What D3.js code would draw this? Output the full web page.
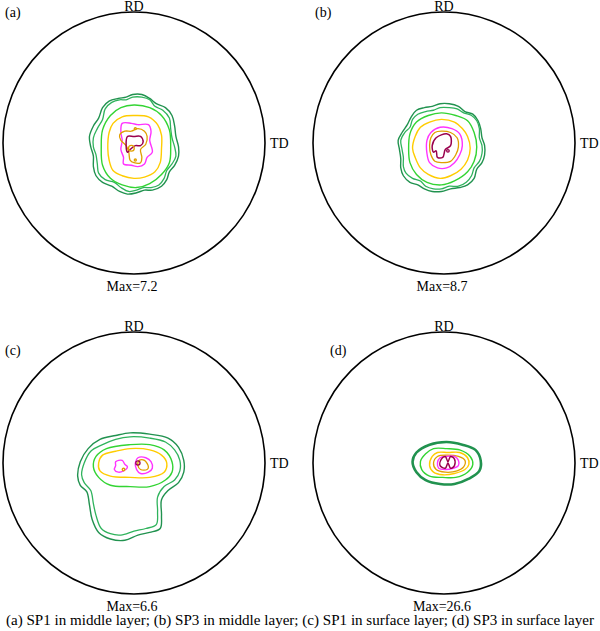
<!DOCTYPE html>
<html>
<head>
<meta charset="utf-8">
<script src="https://cdn.jsdelivr.net/npm/d3@7"></script>
<style>
  html, body { margin: 0; padding: 0; background: #fff; }
  svg { display: block; }
</style>
</head>
<body>
<svg id="chart" width="600" height="631"></svg>
<script>
// ---------------- DATA ----------------
// Pole figure coordinates: circle radius = 100, x toward TD, y toward RD.
const panelIds = ["a", "b", "c", "d"];
const panelLabels = ["(a)", "(b)", "(c)", "(d)"];
const maxValues = [7.2, 8.7, 6.6, 26.6];
const captionText = "(a) SP1 in middle layer; (b) SP3 in middle layer; (c) SP1 in surface layer; (d) SP3 in surface layer";
const levelKeys = ["L1", "L2", "L3", "L4", "L5", "L6", "L7"];

// Panel (a)
const a_L1 = [[-1,37],[6,37],[12,34],[17,30],[24,27],[29,21],[31,13],[32,5],[34,-3],[34,-10],[31,-17],[27,-22],[25,-28],[21,-33],[14,-36],[8,-36],[2,-38],[-5,-39],[-11,-37],[-17,-33],[-24,-30],[-29,-25],[-31,-18],[-31,-10],[-33,-3],[-34,5],[-31,13],[-27,19],[-24,27],[-19,32],[-12,34],[-6,35]];
const a_L2 = [[-1,35],[6,35],[12,33],[16,28],[22,25],[27,19],[28,11],[29,4],[31,-3],[32,-10],[29,-16],[25,-21],[23,-27],[19,-32],[13,-34],[7,-34],[2,-36],[-4,-37],[-10,-34],[-15,-30],[-22,-28],[-27,-23],[-28,-16],[-29,-9],[-31,-3],[-31,4],[-28,11],[-24,18],[-22,26],[-17,31],[-11,33],[-6,33]];
const a_L3 = [[0,29],[12,27],[21,21],[27,10],[28,-3],[27,-15],[21,-24],[12,-31],[2,-34],[-9,-32],[-18,-27],[-24,-17],[-25,-3],[-24,10],[-18,21],[-10,27]];
const a_L4 = [[0,21],[11,20],[18,14],[21,6],[21,-4],[20,-15],[16,-22],[8,-26],[0,-27],[-9,-25],[-16,-21],[-19,-13],[-20,-4],[-19,8],[-16,15],[-9,20]];
const a_L6 = [[-9,15],[-2,15],[3,14],[11,14],[13,9],[12,2],[14,-7],[10,-11],[8,-16],[3,-18],[-2,-17],[-8,-16],[-8,-11],[-10,-5],[-9,2],[-10,8]];
const a_L5 = [[-7,9],[-2,9],[3,11],[8,9],[10,5],[9,-1],[5,-5],[6,-11],[5,-15],[0,-15],[-3,-13],[-4,-7],[-6,-2],[-10,2],[-11,6]];
const a_L7 = [[-5,5],[0,5],[5,5],[7,1],[5,-2],[1,-2],[-3,-5],[-5,-7],[-6,-2]];
const a_L5_spots = [[1,11,0.8],[1,-13,0.8],[-2,-4,2.2]];

// Panel (b)
const b_L1 = [[-3,30],[4,30],[11,28],[16,24],[22,22],[26,17],[28,11],[29,4],[31,-2],[31,-9],[29,-15],[25,-20],[23,-27],[18,-32],[12,-34],[5,-35],[-2,-37],[-9,-37],[-15,-35],[-20,-32],[-26,-30],[-31,-25],[-33,-19],[-33,-12],[-34,-5],[-35,2],[-32,8],[-28,14],[-25,20],[-21,25],[-15,27],[-9,28]];
const b_L2 = [[-3,27],[4,27],[10,26],[15,23],[21,21],[25,17],[27,11],[27,4],[29,-2],[29,-8],[27,-14],[23,-19],[21,-25],[17,-30],[11,-33],[4,-33],[-2,-35],[-8,-35],[-14,-33],[-18,-29],[-24,-27],[-29,-23],[-31,-18],[-31,-11],[-32,-5],[-33,2],[-30,8],[-26,12],[-24,18],[-20,22],[-14,24],[-8,25]];
const b_L3 = [[-2,23],[9,21],[18,17],[23,8],[25,-3],[23,-14],[18,-22],[8,-29],[-2,-32],[-13,-30],[-21,-24],[-26,-15],[-27,-5],[-26,7],[-21,16],[-12,21]];
const b_L4 = [[-2,18],[8,16],[14,11],[18,5],[20,-4],[18,-13],[13,-20],[5,-25],[-3,-27],[-12,-24],[-18,-19],[-22,-11],[-24,-4],[-22,5],[-18,12],[-11,16]];
const b_L6 = [[-3,12],[6,11],[12,7],[14,-2],[12,-9],[8,-15],[2,-19],[-5,-19],[-11,-15],[-13,-8],[-13,2],[-10,8]];
const b_L5 = [[-2,9],[5,8],[10,4],[11,-3],[9,-9],[5,-14],[-2,-15],[-7,-14],[-10,-9],[-11,-2],[-10,4],[-7,8]];
const b_L7 = [[-9,-2],[-6,4],[2,7],[5,5],[5,-2],[1,-5],[-1,-11],[-5,-11],[-6,-6],[-8,-7]];
const b_L7_spots = [[3,-6,1.0]];

// Panel (c)
const c_L1 = [[-3,23],[12,22],[26,19],[34,12],[38,2],[38,-7],[34,-15],[26,-21],[21,-28],[21,-40],[20,-50],[12,-53],[3,-55],[-7,-59],[-18,-58],[-27,-53],[-32,-43],[-34,-32],[-36,-22],[-41,-17],[-43,-10],[-41,1],[-35,11],[-26,18],[-14,21]];
const c_L2 = [[-3,20],[12,19],[24,16],[31,10],[35,2],[35,-6],[31,-13],[23,-18],[18,-26],[18,-37],[17,-47],[9,-50],[0,-52],[-10,-55],[-18,-54],[-25,-50],[-29,-40],[-31,-31],[-33,-21],[-38,-15],[-40,-9],[-38,0],[-33,9],[-24,14],[-14,18]];
const c_L3 = [[-3,14],[12,14],[23,10],[29,1],[29,-7],[24,-13],[12,-18],[-3,-18],[-18,-17],[-27,-11],[-31,-3],[-29,5],[-21,11]];
const c_L4 = [[-3,11],[12,10],[21,6],[25,0],[23,-7],[12,-11],[-3,-11],[-18,-10],[-26,-6],[-27,0],[-24,6],[-14,9]];
const c_L6a = [[-14,1],[-9,2],[-7,-1],[-5,-3],[-8,-6],[-12,-7],[-15,-5],[-14,-2]];
const c_L6b = [[3,4],[9,4],[13,1],[14,-4],[11,-7],[5,-8],[2,-5],[1,0]];
const c_L5 = [[4,2],[8,2],[11,-3],[10,-5],[5,-5],[3,-2]];
const c_L5_spots = [[-8,-5,1.0]];
const c_L7_spots = [[3,0,1.6]];

// Panel (d)
const d_L1 = [[2,16],[14,14],[24,10],[28,2],[27,-6],[19,-12],[8,-16],[-3,-16],[-14,-13],[-21,-7],[-24,1],[-21,8],[-11,14]];
const d_L3 = [[2,11],[12,10],[20,5],[22,-1],[18,-7],[9,-11],[-1,-11],[-11,-10],[-17,-5],[-18,1],[-14,7],[-8,11]];
const d_L4 = [[3,8],[12,8],[18,4],[19,-1],[16,-5],[8,-8],[-1,-9],[-8,-7],[-11,-2],[-9,5],[-5,8]];
const d_L5 = [[3,6],[11,5],[16,2],[15,-3],[10,-6],[1,-7],[-6,-5],[-8,0],[-5,5]];
const d_L6 = [[2,5],[8,5],[11,2],[11,-2],[7,-4],[1,-5],[-4,-4],[-5,0],[-3,4]];
const d_L7 = [[-3,-2],[-2,3],[1,5],[3,1],[5,5],[8,3],[8,-2],[5,-4],[3,0],[1,-4]];

// contour sets per panel: [level, points]
const contourSets = {
  a: [["L1", a_L1], ["L2", a_L2], ["L3", a_L3], ["L4", a_L4], ["L6", a_L6], ["L5", a_L5], ["L7", a_L7]],
  b: [["L1", b_L1], ["L2", b_L2], ["L3", b_L3], ["L4", b_L4], ["L6", b_L6], ["L5", b_L5], ["L7", b_L7]],
  c: [["L1", c_L1], ["L2", c_L2], ["L3", c_L3], ["L4", c_L4], ["L6", c_L6a], ["L6", c_L6b], ["L5", c_L5]],
  d: [["L1", d_L1], ["L3", d_L3], ["L4", d_L4], ["L5", d_L5], ["L6", d_L6], ["L7", d_L7]]
};
const spotSets = {
  a: [["L5", a_L5_spots]],
  b: [["L7", b_L7_spots]],
  c: [["L5", c_L5_spots], ["L7", c_L7_spots]],
  d: []
};

// ---------------- STYLE / LAYOUT ----------------
const FONT = "'Liberation Serif', 'Times New Roman', Times, serif";
const levelColor = d3.scaleOrdinal()
  .domain(levelKeys)
  .range(["#21924f", "#2fb35c", "#33d433", "#ffcc00", "#e0a000", "#ff33ff", "#99004d"]);
const levelWidth = { L1: 1.4, L2: 1.3, L3: 1.4, L4: 1.4, L5: 1.3, L6: 1.4, L7: 1.5 };
const panelLayout = {
  a: { cx: 134, cy: 143, labelX: 5, labelY: 17 },
  b: { cx: 444, cy: 143, labelX: 315, labelY: 17 },
  c: { cx: 134, cy: 463, labelX: 5, labelY: 355 },
  d: { cx: 444, cy: 463, labelX: 330, labelY: 355 }
};
const R = 131;

const svg = d3.select("#chart");
svg.append("rect").attr("width", 600).attr("height", 631).attr("fill", "#fff");

function addText(g, x, y, str, anchor, size) {
  return g.append("text")
    .attr("x", x).attr("y", y)
    .attr("text-anchor", anchor)
    .attr("font-family", FONT)
    .attr("font-size", size)
    .attr("fill", "#000")
    .text(str);
}

panelIds.forEach((id, i) => {
  const L = panelLayout[id];
  const x = d3.scaleLinear().domain([-100, 100]).range([L.cx - R, L.cx + R]);
  const y = d3.scaleLinear().domain([-100, 100]).range([L.cy + R, L.cy - R]);
  const g = svg.append("g").attr("class", "panel-" + id);

  // outer circle
  g.append("circle")
    .attr("cx", x(0)).attr("cy", y(0))
    .attr("r", x(100) - x(0))
    .attr("fill", "none").attr("stroke", "#000").attr("stroke-width", 1.6);

  const line = d3.line()
    .x(d => x(d[0])).y(d => y(d[1]))
    .curve(d3.curveCatmullRomClosed.alpha(0.5));

  g.selectAll("path.contour")
    .data(contourSets[id])
    .enter().append("path")
    .attr("class", "contour")
    .attr("d", d => line(d[1]))
    .attr("fill", "none")
    .attr("stroke", d => levelColor(d[0]))
    .attr("stroke-width", d => (id === "d" && d[0] === "L1") ? 2.6 : levelWidth[d[0]])
    .attr("stroke-linejoin", "round");

  spotSets[id].forEach(([lvl, pts]) => {
    g.selectAll(null).data(pts).enter().append("circle")
      .attr("cx", d => x(d[0])).attr("cy", d => y(d[1]))
      .attr("r", d => x(d[2]) - x(0))
      .attr("fill", "none")
      .attr("stroke", levelColor(lvl))
      .attr("stroke-width", 1.3);
  });

  // labels
  addText(g, x(0), y(100) - 1, "RD", "middle", 14);
  addText(g, x(100) + 5, y(0) + 5, "TD", "start", 14);
  addText(g, L.labelX, L.labelY, panelLabels[i], "start", 14);
  addText(g, x(0) - 2, y(-100) + 17, "Max=" + maxValues[i], "middle", 14);
});

addText(svg, 300, 625, captionText, "middle", 14)
  .attr("textLength", 588)
  .attr("lengthAdjust", "spacingAndGlyphs");
</script>
</body>
</html>
